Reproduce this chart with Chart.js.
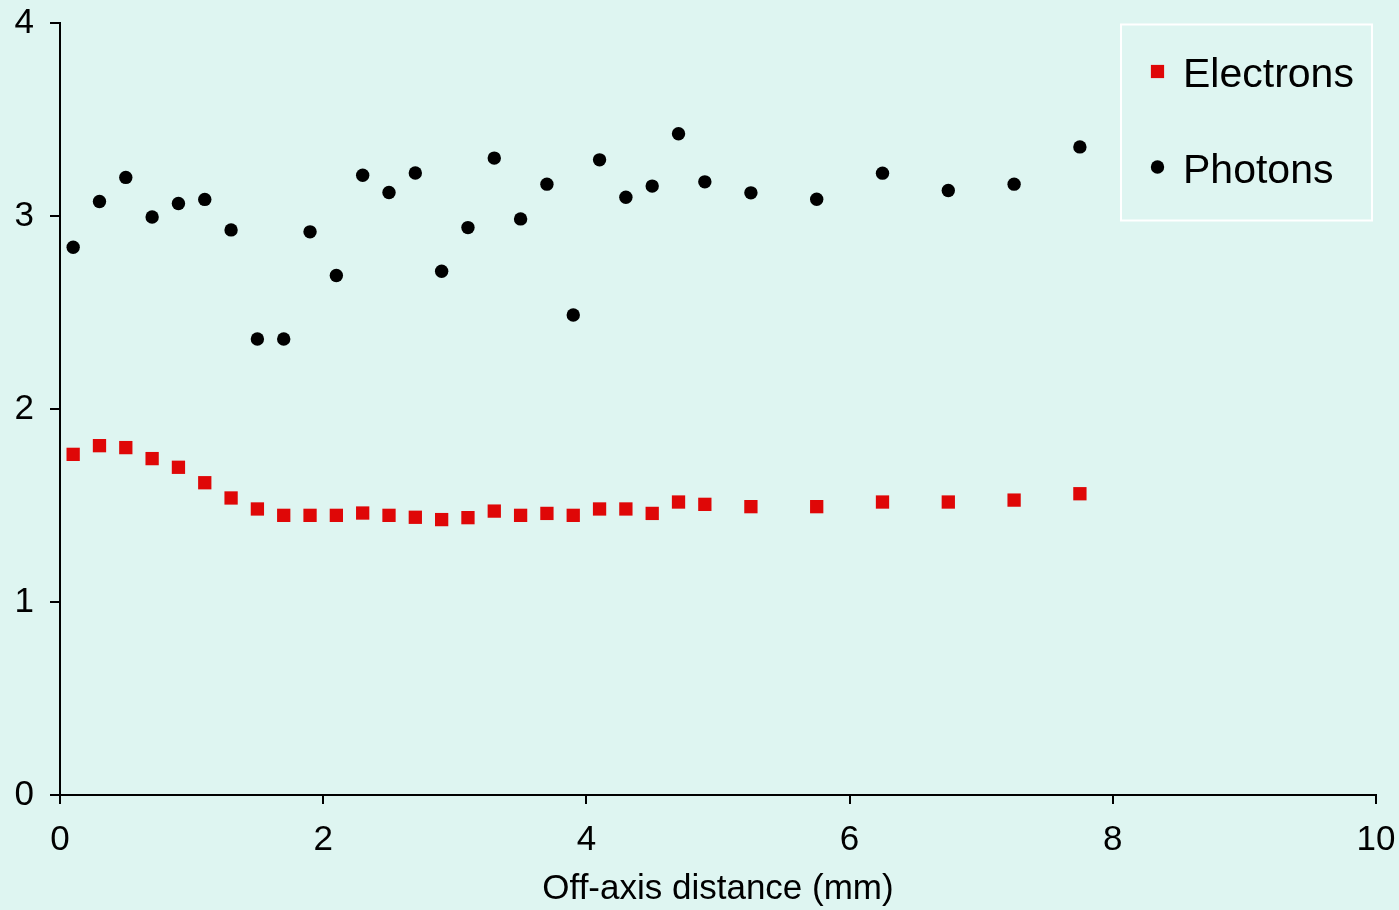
<!DOCTYPE html>
<html>
<head>
<meta charset="utf-8">
<script src="https://cdn.jsdelivr.net/npm/chart.js@4.4.1/dist/chart.umd.min.js"></script>
<style>
  html, body { margin: 0; padding: 0; background: #DEF5F1; }
  canvas { display: block; }
</style>
</head>
<body>
<canvas id="c" width="1399" height="910"></canvas>
<script>
// ---- Data ----
const distances = [0.1, 0.3, 0.5, 0.7, 0.9, 1.1, 1.3, 1.5, 1.7, 1.9, 2.1, 2.3, 2.5, 2.7, 2.9, 3.1, 3.3, 3.5, 3.7, 3.9, 4.1, 4.3, 4.5, 4.7, 4.9, 5.25, 5.75, 6.25, 6.75, 7.25, 7.75];
const electrons = [1.765, 1.810, 1.800, 1.743, 1.698, 1.618, 1.539, 1.482, 1.449, 1.449, 1.449, 1.461, 1.449, 1.439, 1.427, 1.437, 1.471, 1.449, 1.459, 1.449, 1.482, 1.482, 1.459, 1.518, 1.506, 1.494, 1.494, 1.518, 1.518, 1.528, 1.561];
const photons = [2.838, 3.075, 3.200, 2.995, 3.065, 3.086, 2.928, 2.363, 2.363, 2.918, 2.692, 3.211, 3.122, 3.223, 2.714, 2.940, 3.300, 2.985, 3.165, 2.487, 3.291, 3.097, 3.155, 3.426, 3.177, 3.120, 3.087, 3.222, 3.132, 3.165, 3.358];
const seriesNames = ["Electrons", "Photons"];
const xTitle = "Off-axis distance (mm)";

const FONT = "'Liberation Sans', Arial, Helvetica, sans-serif";
const BG = "#DEF5F1";

function toPoints(xs, ys) { return xs.map((x, i) => ({ x: x, y: ys[i] })); }

const bgPlugin = {
  id: 'bg',
  beforeDraw(chart) {
    const ctx = chart.ctx;
    ctx.save();
    ctx.fillStyle = BG;
    ctx.fillRect(0, 0, chart.width, chart.height);
    ctx.restore();
  }
};

const legendPlugin = {
  id: 'boxLegend',
  afterDraw(chart) {
    const ctx = chart.ctx;
    ctx.save();
    ctx.strokeStyle = '#FFFFFF';
    ctx.lineWidth = 2;
    ctx.strokeRect(1121, 24.5, 251, 196);
    ctx.font = "41px " + FONT;
    ctx.textBaseline = 'alphabetic';
    ctx.textAlign = 'left';
    const baselines = [87, 183];
    const markerY = [71.5, 167];
    chart.data.datasets.forEach((ds, i) => {
      ctx.fillStyle = ds.backgroundColor;
      if (ds.pointStyle === 'rect') {
        ctx.fillRect(1157.5 - 6.6, markerY[i] - 6.6, 13.2, 13.2);
      } else {
        ctx.beginPath();
        ctx.arc(1157.5, markerY[i], 6.7, 0, Math.PI * 2);
        ctx.fill();
      }
      ctx.fillStyle = '#000';
      ctx.fillText(ds.label, 1183, baselines[i]);
    });
    ctx.restore();
  }
};

new Chart(document.getElementById('c'), {
  type: 'scatter',
  data: {
    datasets: [
      {
        label: seriesNames[0],
        data: toPoints(distances, electrons),
        pointStyle: 'rect',
        pointRadius: 9.4,
        pointHoverRadius: 9.4,
        pointBorderWidth: 0,
        backgroundColor: '#DF0707',
        borderColor: '#DF0707'
      },
      {
        label: seriesNames[1],
        data: toPoints(distances, photons),
        pointStyle: 'circle',
        pointRadius: 6.7,
        pointHoverRadius: 6.7,
        pointBorderWidth: 0,
        backgroundColor: '#000000',
        borderColor: '#000000'
      }
    ]
  },
  options: {
    responsive: false,
    animation: false,
    events: [],
    layout: { padding: { top: 23, right: 23, left: 0, bottom: 0 } },
    plugins: {
      legend: { display: false },
      tooltip: { enabled: false }
    },
    scales: {
      x: {
        type: 'linear',
        min: 0, max: 10,
        afterFit(scale) {
          scale.height = 115;
          scale.paddingLeft = 0; scale.paddingRight = 0;
          scale.paddingTop = 0; scale.paddingBottom = 0;
        },
        ticks: {
          stepSize: 2, autoSkip: false, maxRotation: 0, minRotation: 0,
          color: '#000', padding: 15,
          font: { family: FONT, size: 35 }
        },
        grid: { drawOnChartArea: false, drawTicks: true, tickLength: 9, color: '#000', lineWidth: 2 },
        border: { display: true, color: '#000', width: 2 },
        title: {
          display: true, text: xTitle, color: '#000',
          font: { family: FONT, size: 35 },
          padding: { top: 0, bottom: 0 }
        }
      },
      y: {
        type: 'linear',
        min: 0, max: 4,
        afterFit(scale) {
          scale.width = 60;
          scale.paddingLeft = 0; scale.paddingRight = 0;
          scale.paddingTop = 0; scale.paddingBottom = 0;
        },
        ticks: {
          stepSize: 1, color: '#000', padding: 16,
          font: { family: FONT, size: 35 }
        },
        grid: { drawOnChartArea: false, drawTicks: true, tickLength: 10, color: '#000', lineWidth: 2 },
        border: { display: true, color: '#000', width: 2 }
      }
    }
  },
  plugins: [bgPlugin, legendPlugin]
});
</script>
</body>
</html>
